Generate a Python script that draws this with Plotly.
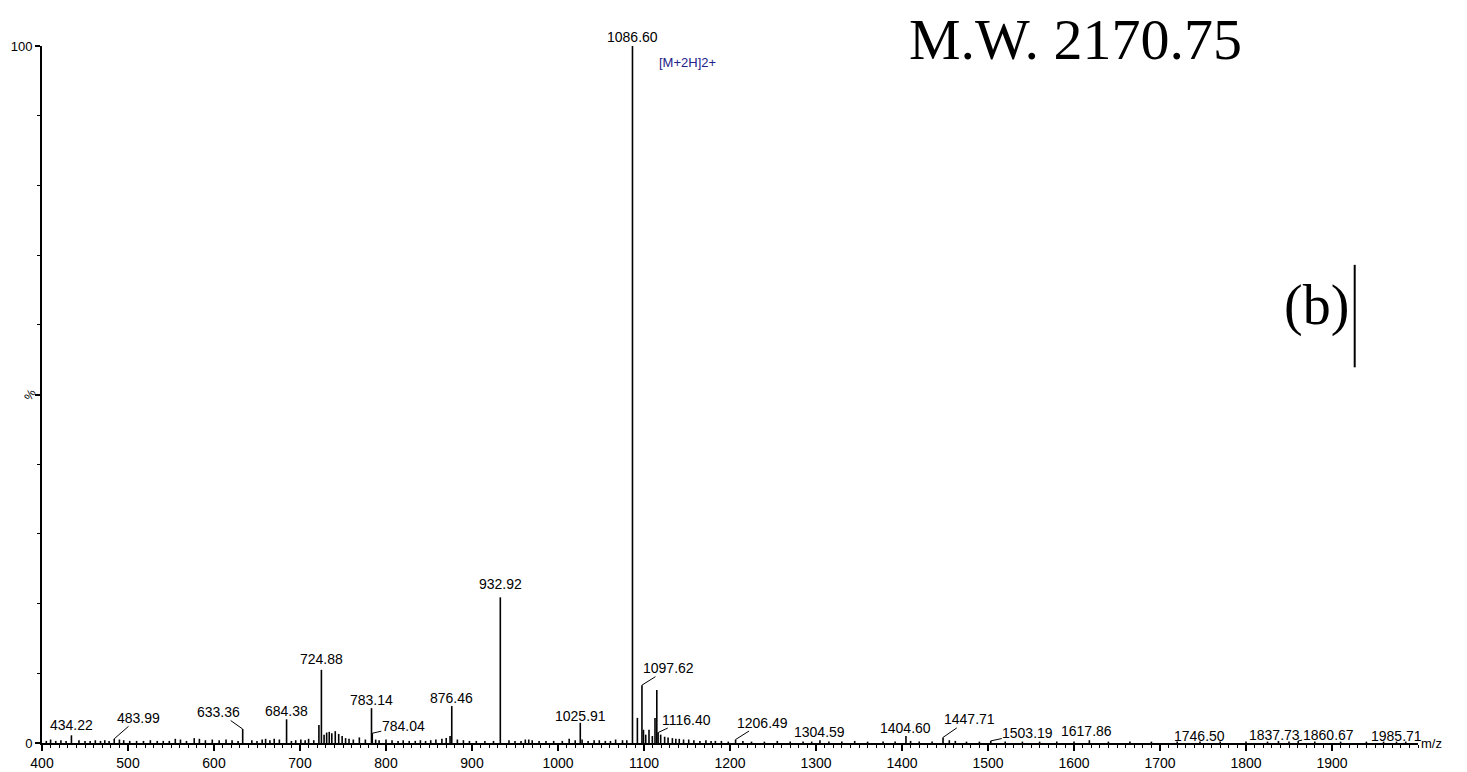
import plotly.graph_objects as go

# ---------------- data ----------------
# main (labelled and cluster) peaks: m/z and relative intensity (%)
peak_mz = [434.22, 483.99, 633.36, 684.38, 722.0, 724.88, 783.14, 784.04, 874.5, 876.46,
           932.92, 1025.91, 1086.60, 1092.3, 1097.62, 1099.4, 1102.0, 1105.8, 1109.7,
           1112.8, 1114.9, 1116.40, 1119.4, 1206.49, 1304.59, 1404.60, 1447.71, 1503.19,
           1617.86, 1746.50, 1837.73, 1860.67, 1985.71]
peak_int = [1.1, 0.6, 2.0, 3.4, 2.6, 10.5, 5.0, 1.4, 1.0, 5.3,
            20.9, 2.9, 100.0, 3.6, 8.3, 1.9, 1.2, 1.9, 1.0,
            3.6, 7.6, 1.5, 1.2, 0.5, 0.4, 1.0, 0.8, 0.3,
            0.4, 0.2, 0.3, 0.3, 0.2]

# baseline noise peaks
noise_mz = [405, 410, 416, 422, 428, 443, 450, 456, 462, 468, 473, 478, 490, 495, 502, 510,
            518, 526, 534, 541, 548, 555, 561, 568, 577, 583, 590, 598, 606, 614, 621, 628,
            644, 650, 656, 660, 665, 670, 676, 690, 695, 701, 706, 710, 716, 728, 731, 734,
            737, 741, 745, 749, 753, 757, 762, 769, 776, 788, 792, 800, 807, 814, 820, 827,
            834, 840, 846, 852, 858, 865, 870, 883, 890, 897, 905, 915, 925, 943, 950, 957,
            962, 966, 970, 978, 986, 995, 1005, 1013, 1020, 1028, 1035, 1042, 1048, 1055,
            1061, 1067, 1075, 1080, 1124, 1128, 1133, 1137, 1141, 1146, 1152, 1158, 1165,
            1172, 1178, 1183, 1190, 1198, 1215, 1225, 1240, 1255, 1270, 1285, 1295, 1315,
            1330, 1345, 1360, 1378, 1392, 1410, 1420, 1435, 1455, 1462, 1475, 1490, 1520,
            1540, 1560, 1580, 1600, 1640, 1665, 1690, 1720, 1770, 1800, 1825, 1850, 1880,
            1910, 1940, 1960, 1975]
noise_int = [0.3, 0.5, 0.3, 0.4, 0.3, 0.4, 0.3, 0.3, 0.4, 0.3, 0.4, 0.3, 0.5, 0.4, 0.3, 0.3,
             0.3, 0.4, 0.3, 0.3, 0.3, 0.6, 0.5, 0.3, 0.7, 0.6, 0.4, 0.5, 0.4, 0.5, 0.4, 0.3,
             0.4, 0.3, 0.5, 0.6, 0.4, 0.6, 0.5, 0.3, 0.4, 0.5, 0.4, 0.6, 0.4, 1.2, 1.5, 1.6,
             1.4, 1.7, 1.3, 1.0, 0.7, 0.6, 0.5, 0.8, 0.5, 0.5, 0.4, 0.5, 0.4, 0.3, 0.4, 0.3,
             0.3, 0.4, 0.3, 0.4, 0.5, 0.6, 0.7, 0.5, 0.4, 0.3, 0.3, 0.3, 0.3, 0.4, 0.3, 0.3,
             0.5, 0.5, 0.4, 0.3, 0.3, 0.3, 0.3, 0.6, 0.4, 0.5, 0.3, 0.4, 0.4, 0.3,
             0.3, 0.5, 0.4, 0.4, 0.9, 0.8, 0.7, 0.6, 0.6, 0.5, 0.5, 0.4, 0.3,
             0.4, 0.3, 0.3, 0.3, 0.2, 0.3, 0.2, 0.2, 0.3, 0.2, 0.2, 0.2, 0.2,
             0.2, 0.3, 0.2, 0.2, 0.2, 0.3, 0.2, 0.2, 0.4, 0.3, 0.2, 0.2, 0.2,
             0.2, 0.2, 0.2, 0.2, 0.2, 0.2, 0.2, 0.2, 0.2, 0.2, 0.2, 0.2, 0.2, 0.2,
             0.2, 0.2, 0.2, 0.2]

# labelled peaks (m/z of label), their text offsets (px) and whether a leader line is drawn
label_mz = [434.22, 483.99, 633.36, 684.38, 724.88, 783.14, 784.04, 876.46, 932.92, 1025.91,
            1086.60, 1097.62, 1116.40, 1206.49, 1304.59, 1404.60, 1447.71, 1503.19, 1617.86,
            1746.50, 1837.73, 1860.67, 1985.71]
label_dx = [0, 24, -24, 0, 0, 0, 31, 0, 0, 0, 0, 27, 28, 27, 0, 0, 26, 37, -3, 0, -4, 30, -9]
label_dy = [-10, -21, -17, -8, -11, -8, -7, -8, -13, -7, -9, -17, -13, -17, -8, -8, -18, -8, -9,
            -6, -6, -6, -6]
label_leader = [False, True, True, False, False, False, True, False, False, False, False, True,
                True, True, False, False, True, True, False, False, False, True, False]

x_ticks = [400, 500, 600, 700, 800, 900, 1000, 1100, 1200, 1300, 1400, 1500, 1600, 1700,
           1800, 1900]
y_ticks = [0, 50, 100]
y_ticktext = ["0", "", "100"]

# ---------------- figure ----------------
all_mz = peak_mz + noise_mz
all_int = peak_int + noise_int
xs, ys = [], []
for m, h in sorted(zip(all_mz, all_int)):
    xs += [m, m, None]
    ys += [0, h, None]

fig = go.Figure()
fig.add_trace(go.Scatter(x=xs, y=ys, mode="lines",
                         line=dict(color="black", width=1.6),
                         hoverinfo="skip", showlegend=False, cliponaxis=False))

lab_font = dict(family="Liberation Sans, Arial, sans-serif", size=14, color="black")
int_of = dict(zip(peak_mz, peak_int))
for m, dx, dy, lead in zip(label_mz, label_dx, label_dy, label_leader):
    fig.add_annotation(x=m, y=int_of[m], text=f"{m:.2f}", showarrow=True,
                       ax=dx, ay=dy, arrowhead=0, arrowwidth=1, standoff=0,
                       arrowcolor="black" if lead else "rgba(0,0,0,0)",
                       font=lab_font, borderpad=0)

fig.add_annotation(x=1150, y=97.7, text="[M+2H]2+", showarrow=False,
                   xanchor="center", yanchor="middle",
                   font=dict(family="Liberation Sans, Arial, sans-serif", size=13,
                             color="#22228a"))
fig.add_annotation(xref="paper", yref="paper", x=0.751, y=1.009, text="M.W. 2170.75",
                   showarrow=False, xanchor="center", yanchor="middle", borderpad=0,
                   font=dict(family="Liberation Serif, Times New Roman, serif", size=58,
                             color="black"))
fig.add_annotation(xref="paper", yref="paper", x=0.926, y=0.628, text="(b)",
                   showarrow=False, xanchor="center", yanchor="middle",
                   font=dict(family="Liberation Serif, Times New Roman, serif", size=56,
                             color="black"))
fig.add_shape(type="line", xref="paper", yref="paper", x0=0.954, x1=0.954,
              y0=0.539, y1=0.686, line=dict(color="black", width=2))
fig.add_annotation(xref="paper", yref="paper", x=-0.009, y=0.5, text="%",
                   showarrow=False, textangle=-60, xanchor="center", yanchor="middle",
                   font=dict(family="Liberation Sans, Arial, sans-serif", size=12,
                             color="black"))
fig.add_annotation(xref="paper", yref="paper", x=1.001, y=0.0, xanchor="left",
                   yanchor="middle", text="m/z", showarrow=False,
                   font=dict(family="Liberation Sans, Arial, sans-serif", size=13,
                             color="black"))

fig.update_xaxes(range=[400, 2000], showgrid=False, zeroline=False, automargin=False,
                 showline=True, linecolor="black", linewidth=2,
                 tickmode="array", tickvals=x_ticks, ticks="outside", ticklen=6,
                 tickwidth=1.5, tickcolor="black",
                 minor=dict(dtick=10, ticks="outside", ticklen=3, tickcolor="black",
                            tickwidth=1),
                 tickfont=dict(family="Liberation Sans, Arial, sans-serif", size=14,
                               color="black"))
fig.update_yaxes(range=[0, 100], showgrid=False, zeroline=False, automargin=False,
                 showline=True, linecolor="black", linewidth=2,
                 tickmode="array", tickvals=y_ticks, ticktext=y_ticktext,
                 ticks="outside", ticklen=5, tickwidth=1.5, tickcolor="black",
                 minor=dict(dtick=10, ticks="outside", ticklen=3, tickcolor="black",
                            tickwidth=1),
                 tickfont=dict(family="Liberation Sans, Arial, sans-serif", size=13,
                               color="black"))

# page body has an 8px margin, so the figure is sized to fill the rest of the window
fig.update_layout(width=1459, height=764, plot_bgcolor="white", paper_bgcolor="white",
                  margin=dict(l=34, r=49, t=38, b=29, pad=0), showlegend=False)

fig.write_html("out.html")
